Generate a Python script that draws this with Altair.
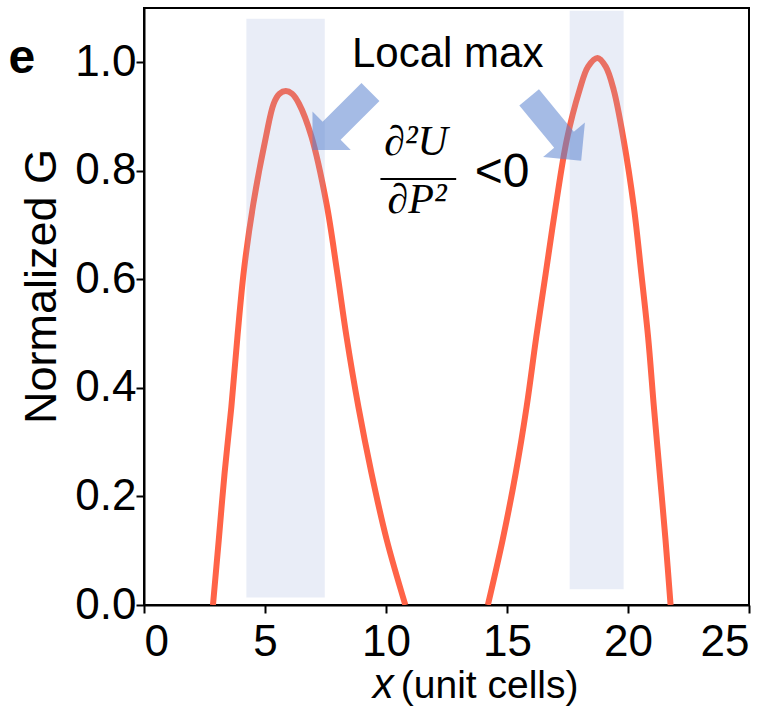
import altair as alt
import pandas as pd

# Normalized G along x for the two lobes
lobe1_x = [2.85, 3.09, 3.33, 3.61, 3.86, 4.13, 4.52, 5.04, 5.36, 5.60, 5.86,
           6.12, 6.40, 6.92, 7.54, 7.97, 8.37, 8.86, 9.40, 10.03, 10.80]
lobe1_g = [0.0, 0.120, 0.243, 0.365, 0.494, 0.617, 0.740, 0.863, 0.924, 0.942, 0.947,
           0.942, 0.924, 0.863, 0.740, 0.617, 0.494, 0.365, 0.243, 0.120, 0.0]
lobe2_x = [14.21, 14.82, 15.36, 15.81, 16.21, 16.60, 17.01, 17.47, 18.00, 18.35, 18.74,
           19.08, 19.41, 19.82, 20.24, 20.55, 20.83, 21.07, 21.31, 21.55, 21.76]
lobe2_g = [0.0, 0.120, 0.243, 0.365, 0.494, 0.611, 0.734, 0.857, 0.949, 0.992, 1.008,
           0.992, 0.949, 0.857, 0.734, 0.611, 0.494, 0.365, 0.243, 0.120, 0.0]

# Shaded bands around the local maxima
band_x0 = [4.23, 17.59]
band_x1 = [7.47, 19.82]
band_g0 = [0.014, 0.029]
band_g1 = [1.08, 1.095]

# Block arrows pointing at the maxima (centre, direction in degrees)
arrow_x = [8.16, 16.99]
arrow_g = [0.892, 0.877]
arrow_angle = [135, 50.6]

# Axis ticks
x_ticks = [0, 5, 10, 15, 20, 25]
g_ticks = [0.0, 0.2, 0.4, 0.6, 0.8, 1.0]

FONT = "Liberation Sans"
MATH = "Liberation Serif"

curve = pd.DataFrame({
    "x": lobe1_x + lobe2_x,
    "g": lobe1_g + lobe2_g,
    "lobe": ["a"] * len(lobe1_x) + ["b"] * len(lobe2_x),
})
bands = pd.DataFrame({"x0": band_x0, "x1": band_x1, "g0": band_g0, "g1": band_g1})
arrows = pd.DataFrame({"x": arrow_x, "g": arrow_g, "angle": arrow_angle})

xs = alt.Scale(domain=[0, 25], nice=False, zero=False)
ys = alt.Scale(domain=[0, 1.1], nice=False, zero=False)

line = alt.Chart(curve).mark_line(
    color="#FF6347", strokeWidth=6, interpolate="catmull-rom", clip=True
).encode(
    x=alt.X("x:Q", scale=xs, axis=alt.Axis(
        values=x_ticks, title=None, labelPadding=7, tickSize=8)),
    y=alt.Y("g:Q", scale=ys, axis=alt.Axis(
        values=g_ticks, format=".1f", title="Normalized G", labelPadding=0,
        tickSize=8, titleX=-89, titleY=278, titleBaseline="alphabetic",
        titleAlign="center", titleAngle=-90, titleFontSize=45)),
    detail="lobe:N",
)

band = alt.Chart(bands).mark_rect(color="#8FA3D6", opacity=0.2).encode(
    x="x0:Q", x2="x1:Q", y="g0:Q", y2="g1:Q"
)

ARROW = "M -1 -0.31 L 0.34 -0.31 L 0.34 -0.66 L 1 0 L 0.34 0.66 L 0.34 0.31 L -1 0.31 Z"
arrow = alt.Chart(arrows).mark_point(
    shape=ARROW, filled=True, size=6724, color="#5B84CF", opacity=0.55, strokeWidth=0
).encode(
    x="x:Q", y="g:Q", angle=alt.Angle("angle:Q", scale=None)
)


def label(text, x, g, **style):
    df = pd.DataFrame({"t": [text], "x": [x], "g": [g]})
    return alt.Chart(df).mark_text(baseline="alphabetic", color="black", **style).encode(
        x="x:Q", y="g:Q", text="t:N"
    )


local_max = label("Local max", 12.55, 0.992, font=FONT, fontSize=42, align="center")
numer = label("∂²U", 11.24, 0.829, font=MATH, fontSize=42, fontStyle="italic", align="center")
denom = label("∂P²", 11.28, 0.722, font=MATH, fontSize=42, fontStyle="italic", align="center")
less = label("<0", 13.67, 0.771, font=FONT, fontSize=48, align="left")
panel = label("e", -5.05, 0.980, font=FONT, fontSize=48, fontWeight="bold", align="center")
xt_var = label("x", 9.45, -0.172, font=FONT, fontSize=42, fontStyle="italic", align="left")
xt_unit = label("(unit cells)", 10.61, -0.172, font=FONT, fontSize=39, align="left")

bar_df = pd.DataFrame({"x0": [9.77], "x1": [12.90], "g": [0.785]})
bar = alt.Chart(bar_df).mark_rule(color="black", strokeWidth=2).encode(
    x="x0:Q", x2="x1:Q", y="g:Q"
)

chart = alt.layer(
    line, band, arrow, local_max, numer, bar, denom, less, panel, xt_var, xt_unit
).properties(
    width=605, height=597,
    autosize=alt.AutoSizeParams(type="none"),
    padding={"left": 144, "top": 8, "right": 34, "bottom": 104},
).configure_view(
    stroke="black", strokeWidth=2
).configure_axis(
    grid=False,
    domainColor="black", domainWidth=2,
    tickColor="black", tickWidth=2,
    labelFont=FONT, labelFontSize=44, labelColor="black",
    titleFont=FONT, titleFontSize=42, titleColor="black", titleFontWeight="normal",
)

chart.save("out.html", embed_options={"renderer": "svg", "actions": False})
